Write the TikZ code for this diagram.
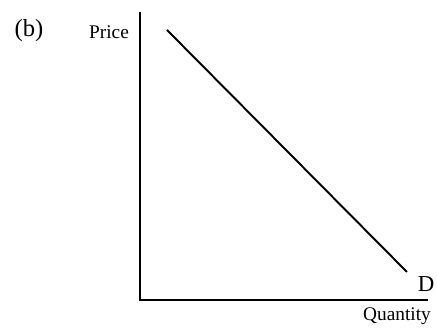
\documentclass[tikz,border=0pt]{standalone}
\usepackage{fontspec}
\setmainfont{Liberation Serif}
\usepackage{tikz}

\tikzset{
	axisline/.style={line width=1.1pt},
	demandline/.style={line width=1.1pt},
	lbl/.style={inner sep=0pt, font=\fontsize{11}{13}\selectfont}
}

\begin{document}
\begin{tikzpicture}[x=0.02cm, y=-0.02cm]
		% cadre fixe
		\useasboundingbox (0,0) rectangle (437,333);
		
		% axes
		\coordinate (origin) at (140,300);
		\coordinate (ytop) at (140,12);
		\coordinate (xend) at (428,300);
		\draw[axisline] (ytop) -- (origin) -- (xend);
		
		% droite de demande
		\coordinate (dstart) at (167,30);
		\coordinate (dend) at (407,272);
		\draw[demandline] (dstart) -- (dend);
		
		% textes
		\node[lbl, font=\fontsize{14}{17}\selectfont] (panel) at (29,31) {(b)};
		\node[lbl] (price) at (109,32) {Price};
		\node[lbl] (qty) at (397,316) {Quantity};
		\node[lbl, font=\fontsize{13}{15}\selectfont] (dlabel) at (426,284) {D};
	\end{tikzpicture}
\end{document}
